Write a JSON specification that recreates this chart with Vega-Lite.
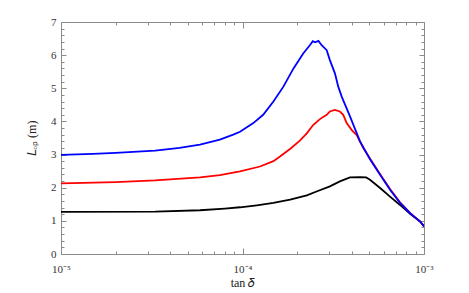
{
  "$schema": "https://vega.github.io/schema/vega-lite/v6.json",
  "autosize": "none",
  "width": 363,
  "height": 232,
  "padding": {"left": 61, "top": 22, "right": 45, "bottom": 39},
  "background": "white",
  "config": {
    "view": {"stroke": "#8a8a8a", "strokeWidth": 1},
    "font": "Liberation Serif",
    "axis": {
      "grid": false,
      "domain": false,
      "tickColor": "#8a8a8a",
      "tickWidth": 1,
      "labelFont": "Liberation Serif",
      "labelFontSize": 11,
      "labelColor": "#333333",
      "labelFlush": false,
      "labelBound": false,
      "labelOverlap": false,
      "titleFont": "Liberation Serif",
      "titleFontWeight": "normal",
      "titleFontSize": 12,
      "titleColor": "#222222"
    }
  },
  "data": {
    "values": [
      {"s": "black", "x": 1e-5, "y": 1.27},
      {"s": "black", "x": 3.3e-5, "y": 1.28},
      {"s": "black", "x": 5.83e-5, "y": 1.32},
      {"s": "black", "x": 8e-5, "y": 1.37},
      {"s": "black", "x": 9.69e-5, "y": 1.41},
      {"s": "black", "x": 1.2e-4, "y": 1.47},
      {"s": "black", "x": 1.48e-4, "y": 1.54},
      {"s": "black", "x": 1.83e-4, "y": 1.64},
      {"s": "black", "x": 2.26e-4, "y": 1.77},
      {"s": "black", "x": 2.6e-4, "y": 1.9},
      {"s": "black", "x": 3.03e-4, "y": 2.04},
      {"s": "black", "x": 3.44e-4, "y": 2.19},
      {"s": "black", "x": 3.91e-4, "y": 2.31},
      {"s": "black", "x": 4.44e-4, "y": 2.32},
      {"s": "black", "x": 4.8e-4, "y": 2.31},
      {"s": "black", "x": 5.04e-4, "y": 2.24},
      {"s": "black", "x": 5.73e-4, "y": 1.99},
      {"s": "black", "x": 6.5e-4, "y": 1.73},
      {"s": "black", "x": 7.38e-4, "y": 1.48},
      {"s": "black", "x": 8.38e-4, "y": 1.21},
      {"s": "black", "x": 9.52e-4, "y": 0.98},
      {"s": "black", "x": 1e-3, "y": 0.83},
      {"s": "red", "x": 1e-5, "y": 2.13},
      {"s": "red", "x": 2e-5, "y": 2.17},
      {"s": "red", "x": 3.3e-5, "y": 2.22},
      {"s": "red", "x": 5.83e-5, "y": 2.31},
      {"s": "red", "x": 7.5e-5, "y": 2.38},
      {"s": "red", "x": 9.69e-5, "y": 2.49},
      {"s": "red", "x": 1.249e-4, "y": 2.64},
      {"s": "red", "x": 1.48e-4, "y": 2.8},
      {"s": "red", "x": 1.609e-4, "y": 2.94},
      {"s": "red", "x": 1.827e-4, "y": 3.17},
      {"s": "red", "x": 2.07e-4, "y": 3.42},
      {"s": "red", "x": 2.26e-4, "y": 3.64},
      {"s": "red", "x": 2.45e-4, "y": 3.89},
      {"s": "red", "x": 2.67e-4, "y": 4.07},
      {"s": "red", "x": 2.91e-4, "y": 4.2},
      {"s": "red", "x": 3.03e-4, "y": 4.3},
      {"s": "red", "x": 3.23e-4, "y": 4.35},
      {"s": "red", "x": 3.44e-4, "y": 4.3},
      {"s": "red", "x": 3.59e-4, "y": 4.2},
      {"s": "red", "x": 3.75e-4, "y": 3.95},
      {"s": "red", "x": 4.0e-4, "y": 3.74},
      {"s": "red", "x": 4.26e-4, "y": 3.59},
      {"s": "red", "x": 4.63e-4, "y": 3.2},
      {"s": "red", "x": 5.04e-4, "y": 2.88},
      {"s": "red", "x": 5.73e-4, "y": 2.41},
      {"s": "red", "x": 6.5e-4, "y": 1.96},
      {"s": "red", "x": 7.38e-4, "y": 1.56},
      {"s": "red", "x": 8.38e-4, "y": 1.24},
      {"s": "red", "x": 9.52e-4, "y": 0.98},
      {"s": "red", "x": 1e-3, "y": 0.84},
      {"s": "blue", "x": 1e-5, "y": 2.99},
      {"s": "blue", "x": 1.5e-5, "y": 3.02},
      {"s": "blue", "x": 2e-5, "y": 3.05},
      {"s": "blue", "x": 3.3e-5, "y": 3.12},
      {"s": "blue", "x": 4.5e-5, "y": 3.2},
      {"s": "blue", "x": 5.83e-5, "y": 3.3},
      {"s": "blue", "x": 7.5e-5, "y": 3.45},
      {"s": "blue", "x": 8.89e-5, "y": 3.6},
      {"s": "blue", "x": 9.69e-5, "y": 3.69},
      {"s": "blue", "x": 1.147e-4, "y": 3.95},
      {"s": "blue", "x": 1.3e-4, "y": 4.2},
      {"s": "blue", "x": 1.48e-4, "y": 4.6},
      {"s": "blue", "x": 1.68e-4, "y": 5.05},
      {"s": "blue", "x": 1.91e-4, "y": 5.6},
      {"s": "blue", "x": 2.16e-4, "y": 6.05},
      {"s": "blue", "x": 2.35e-4, "y": 6.3},
      {"s": "blue", "x": 2.44e-4, "y": 6.42},
      {"s": "blue", "x": 2.51e-4, "y": 6.39},
      {"s": "blue", "x": 2.62e-4, "y": 6.43},
      {"s": "blue", "x": 2.73e-4, "y": 6.3},
      {"s": "blue", "x": 2.91e-4, "y": 6.15},
      {"s": "blue", "x": 3.03e-4, "y": 5.85},
      {"s": "blue", "x": 3.23e-4, "y": 5.45},
      {"s": "blue", "x": 3.37e-4, "y": 5.05},
      {"s": "blue", "x": 3.52e-4, "y": 4.75},
      {"s": "blue", "x": 3.91e-4, "y": 4.15},
      {"s": "blue", "x": 4.44e-4, "y": 3.4},
      {"s": "blue", "x": 5.04e-4, "y": 2.86},
      {"s": "blue", "x": 5.73e-4, "y": 2.39},
      {"s": "blue", "x": 6.5e-4, "y": 1.94},
      {"s": "blue", "x": 7.38e-4, "y": 1.54},
      {"s": "blue", "x": 8.38e-4, "y": 1.23},
      {"s": "blue", "x": 9.52e-4, "y": 0.98},
      {"s": "blue", "x": 1e-3, "y": 0.84}
    ]
  },
  "resolve": {"axis": {"x": "independent", "y": "independent"}},
  "layer": [
    {
      "mark": {"type": "line", "strokeWidth": 1.8, "clip": true},
      "encoding": {
        "x": {"field": "x", "type": "quantitative",
          "scale": {"type": "log", "domain": [1e-5, 1e-3], "nice": false},
          "axis": {"orient": "bottom", "values": [1e-5, 1e-4, 1e-3], "ticks": false, "labelPadding": 9,
            "labelExpr": "datum.value < 5e-5 ? '10⁻⁵' : datum.value < 5e-4 ? '10⁻⁴' : '10⁻³'",
            "title": "tan 𝛿", "titlePadding": 3}},
        "y": {"field": "y", "type": "quantitative",
          "scale": {"domain": [0, 7], "nice": false, "zero": true},
          "axis": {"orient": "left", "values": [0, 1, 2, 3, 4, 5, 6, 7], "ticks": false, "labelPadding": 5,
            "title": "𝐿ₒₚ (m)", "titlePadding": 12}},
        "color": {"field": "s", "type": "nominal",
          "scale": {"domain": ["black", "red", "blue"], "range": ["#000000", "#ff0000", "#0000ff"]},
          "legend": null}
      }
    },
    {
      "mark": {"type": "point", "opacity": 0, "size": 0},
      "encoding": {
        "x": {"field": "x", "type": "quantitative", "scale": {"type": "log", "domain": [1e-5, 1e-3], "nice": false},
          "axis": {"orient": "bottom", "values": [1e-5, 1e-4, 1e-3], "labels": false, "title": null, "tickSize": -6}},
        "y": {"field": "y", "type": "quantitative", "scale": {"domain": [0, 7], "nice": false},
          "axis": {"orient": "left", "values": [0, 1, 2, 3, 4, 5, 6, 7], "labels": false, "title": null, "tickSize": -5}}
      }
    },
    {
      "mark": {"type": "point", "opacity": 0, "size": 0},
      "encoding": {
        "x": {"field": "x", "type": "quantitative", "scale": {"type": "log", "domain": [1e-5, 1e-3], "nice": false},
          "axis": {"orient": "bottom", "values": [2e-5, 3e-5, 4e-5, 5e-5, 6e-5, 7e-5, 8e-5, 9e-5, 2e-4, 3e-4, 4e-4, 5e-4, 6e-4, 7e-4, 8e-4, 9e-4], "labels": false, "title": null, "tickSize": -3}},
        "y": {"field": "y", "type": "quantitative", "scale": {"domain": [0, 7], "nice": false},
          "axis": {"orient": "left", "values": [0.2, 0.4, 0.6, 0.8, 1.2, 1.4, 1.6, 1.8, 2.2, 2.4, 2.6, 2.8, 3.2, 3.4, 3.6, 3.8, 4.2, 4.4, 4.6, 4.8, 5.2, 5.4, 5.6, 5.8, 6.2, 6.4, 6.6, 6.8], "labels": false, "title": null, "tickSize": -3}}
      }
    },
    {
      "mark": {"type": "point", "opacity": 0, "size": 0},
      "encoding": {
        "x": {"field": "x", "type": "quantitative", "scale": {"type": "log", "domain": [1e-5, 1e-3], "nice": false},
          "axis": {"orient": "top", "values": [1e-5, 1e-4, 1e-3], "labels": false, "title": null, "tickSize": -6}},
        "y": {"field": "y", "type": "quantitative", "scale": {"domain": [0, 7], "nice": false},
          "axis": {"orient": "right", "values": [0, 1, 2, 3, 4, 5, 6, 7], "labels": false, "title": null, "tickSize": -5}}
      }
    },
    {
      "mark": {"type": "point", "opacity": 0, "size": 0},
      "encoding": {
        "x": {"field": "x", "type": "quantitative", "scale": {"type": "log", "domain": [1e-5, 1e-3], "nice": false},
          "axis": {"orient": "top", "values": [2e-5, 3e-5, 4e-5, 5e-5, 6e-5, 7e-5, 8e-5, 9e-5, 2e-4, 3e-4, 4e-4, 5e-4, 6e-4, 7e-4, 8e-4, 9e-4], "labels": false, "title": null, "tickSize": -3}},
        "y": {"field": "y", "type": "quantitative", "scale": {"domain": [0, 7], "nice": false},
          "axis": {"orient": "right", "values": [0.2, 0.4, 0.6, 0.8, 1.2, 1.4, 1.6, 1.8, 2.2, 2.4, 2.6, 2.8, 3.2, 3.4, 3.6, 3.8, 4.2, 4.4, 4.6, 4.8, 5.2, 5.4, 5.6, 5.8, 6.2, 6.4, 6.6, 6.8], "labels": false, "title": null, "tickSize": -3}}
      }
    }
  ]
}
